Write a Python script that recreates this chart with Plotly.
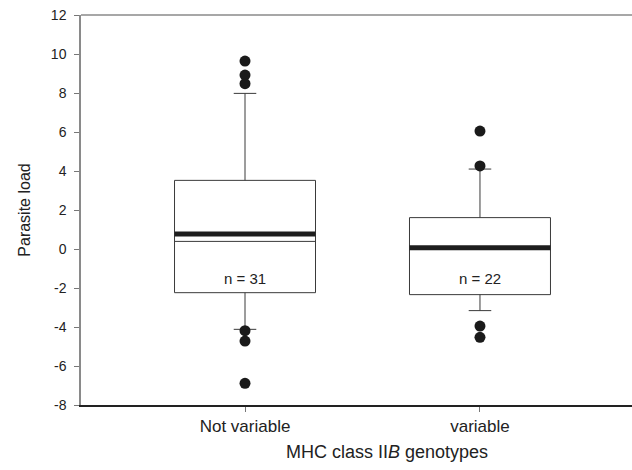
import plotly.graph_objects as go

# Parasite load by MHC class IIB genotype group
groups = ["Not variable", "variable"]
group_pos = [1, 2]
n_labels = ["n = 31", "n = 22"]
q1 = [-2.24, -2.34]
median = [0.39, 0.02]
q3 = [3.52, 1.61]
mean = [0.77, 0.06]
lower_whisker = [-4.12, -3.16]
upper_whisker = [7.98, 4.10]
outliers = [
    [9.64, 8.92, 8.48, -4.19, -4.72, -6.89],
    [6.05, 4.26, -3.95, -4.53],
]

y_ticks = list(range(-8, 13, 2))
y_tick_text = [str(v) for v in y_ticks]  # plain hyphen for negatives

BOX_W = 0.6
FONT = "Liberation Sans, Arial, sans-serif"

fig = go.Figure()

for i, pos in enumerate(group_pos):
    fig.add_trace(go.Box(
        x=[pos], q1=[q1[i]], median=[median[i]], q3=[q3[i]],
        lowerfence=[lower_whisker[i]], upperfence=[upper_whisker[i]],
        width=BOX_W, whiskerwidth=0.16, boxpoints=False,
        fillcolor="white", line=dict(color="#3a3a3a", width=1),
        hoverinfo="skip", showlegend=False,
    ))
    # thick mean line across the box
    fig.add_trace(go.Scatter(
        x=[pos - BOX_W / 2, pos + BOX_W / 2], y=[mean[i], mean[i]],
        mode="lines", line=dict(color="#1e1e1e", width=5),
        hoverinfo="skip", showlegend=False,
    ))
    fig.add_trace(go.Scatter(
        x=[pos] * len(outliers[i]), y=outliers[i], mode="markers",
        marker=dict(color="#1a1a1a", size=11),
        hoverinfo="skip", showlegend=False,
    ))
    fig.add_annotation(
        x=pos, y=-1.5, text=n_labels[i], showarrow=False,
        font=dict(family=FONT, size=15, color="#222"),
    )

# frame line along the top of the plot area
fig.add_shape(type="line", xref="paper", yref="paper", x0=0, x1=1, y0=1, y1=1,
              line=dict(color="#8a8a8a", width=1.5))

# x-axis title, set slightly right of the plot-area centre
fig.add_annotation(
    xref="paper", yref="paper", x=0.555, y=-0.12,
    xanchor="center", yanchor="middle", showarrow=False,
    text="MHC class II<i>B</i> genotypes",
    font=dict(family=FONT, size=18, color="#222"),
)

fig.update_layout(
    width=632, height=470,
    margin=dict(l=81, r=0, t=15, b=65),
    paper_bgcolor="white", plot_bgcolor="white",
    font=dict(family=FONT, size=14, color="#222"),
    xaxis=dict(
        range=[0.302, 2.647], tickvals=group_pos, ticktext=groups,
        showgrid=False, zeroline=False, showline=True,
        linecolor="#222", linewidth=1.5,
        ticks="outside", ticklen=5, tickcolor="#777",
        tickfont=dict(size=17, color="#222"),
    ),
    yaxis=dict(
        range=[-8, 12], tickvals=y_ticks, ticktext=y_tick_text,
        showgrid=False, zeroline=False, showline=True,
        linecolor="#8a8a8a", linewidth=1.5,
        ticks="outside", ticklen=5, tickcolor="#777",
        ticklabelstandoff=5,
        tickfont=dict(size=14, color="#222"),
        title=dict(text="Parasite load", font=dict(size=16, color="#222"), standoff=16),
    ),
)

fig.write_html("out.html")
